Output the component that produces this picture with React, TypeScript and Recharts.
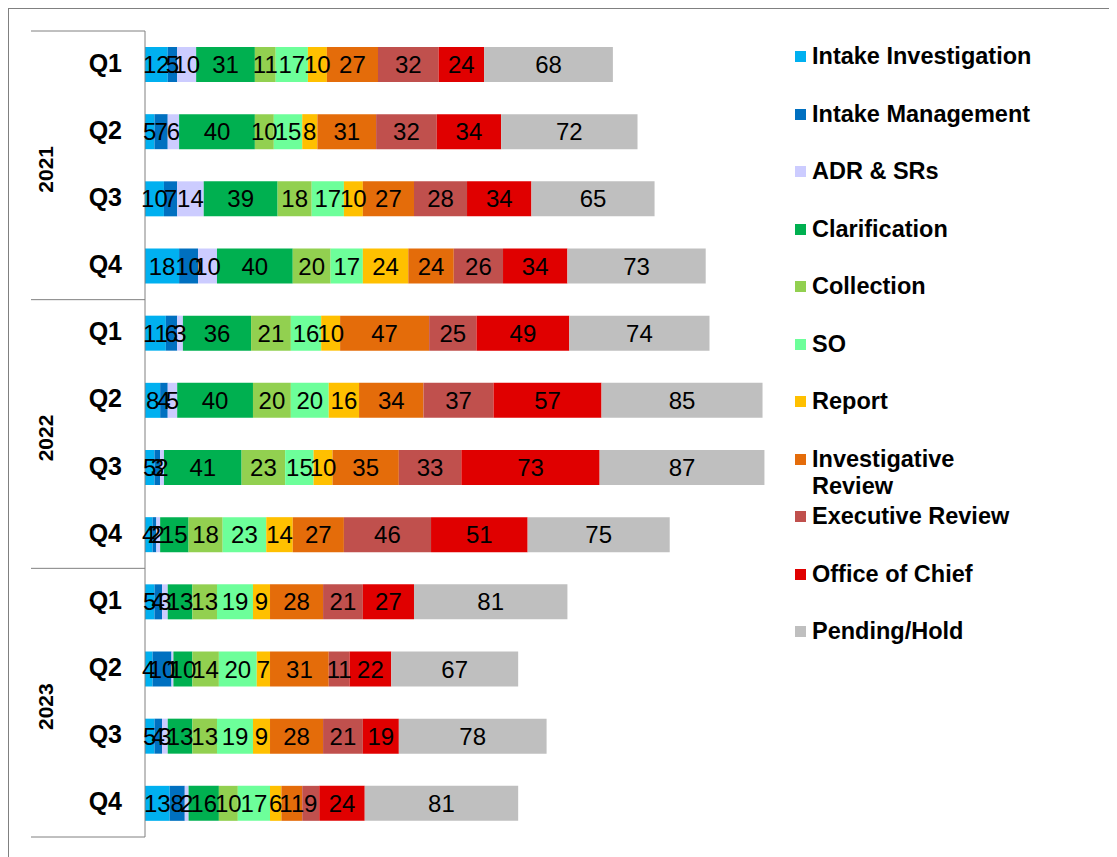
import React from 'react'
import {BarChart, Bar, XAxis, YAxis, LabelList} from 'recharts'

const years = ['2021', '2021', '2021', '2021', '2022', '2022', '2022', '2022', '2023', '2023', '2023', '2023']
const quarters = ['Q1', 'Q2', 'Q3', 'Q4', 'Q1', 'Q2', 'Q3', 'Q4', 'Q1', 'Q2', 'Q3', 'Q4']

// one array per stage, one value per quarter
const intakeInvestigation = [12, 5, 10, 18, 11, 8, 5, 4, 5, 4, 5, 13]
const intakeManagement = [5, 7, 7, 10, 6, 4, 3, 2, 4, 10, 4, 8]
const adrSrs = [10, 6, 14, 10, 3, 5, 2, 2, 3, 1, 3, 2]
const clarification = [31, 40, 39, 40, 36, 40, 41, 15, 13, 10, 13, 16]
const collection = [11, 10, 18, 20, 21, 20, 23, 18, 13, 14, 13, 10]
const so = [17, 15, 17, 17, 16, 20, 15, 23, 19, 20, 19, 17]
const report = [10, 8, 10, 24, 10, 16, 10, 14, 9, 7, 9, 6]
const investigativeReview = [27, 31, 27, 24, 47, 34, 35, 27, 28, 31, 28, 11]
const executiveReview = [32, 32, 28, 26, 25, 37, 33, 46, 21, 11, 21, 9]
const officeOfChief = [24, 34, 34, 34, 49, 57, 73, 51, 27, 22, 19, 24]
const pendingHold = [68, 72, 65, 73, 74, 85, 87, 75, 81, 67, 78, 81]

const series = [
  {key: 'ii', name: 'Intake Investigation', color: '#00B0F0', values: intakeInvestigation},
  {key: 'im', name: 'Intake Management', color: '#0070C0', values: intakeManagement},
  {key: 'adr', name: 'ADR & SRs', color: '#CCCCFF', values: adrSrs},
  {key: 'cl', name: 'Clarification', color: '#00B050', values: clarification},
  {key: 'co', name: 'Collection', color: '#92D050', values: collection},
  {key: 'so', name: 'SO', color: '#6DFF9A', values: so},
  {key: 're', name: 'Report', color: '#FFC000', values: report},
  {key: 'ir', name: 'Investigative\nReview', color: '#E46C0A', values: investigativeReview},
  {key: 'er', name: 'Executive Review', color: '#C0504D', values: executiveReview},
  {key: 'oc', name: 'Office of Chief', color: '#E00000', values: officeOfChief},
  {key: 'ph', name: 'Pending/Hold', color: '#BFBFBF', values: pendingHold}
]

const data = quarters.map((q, i) => {
  const row: Record<string, string | number> = {key: `${years[i]} ${q}`, year: years[i], quarter: q}
  series.forEach(s => {
    row[s.key] = s.values[i]
  })
  return row
})

const FONT = '"Liberation Sans", Arial, sans-serif'
const W = 1109
const H = 849
const AXIS_W = 136
const TOP = 22
const BOTTOM = 21
const PLOT_H = H - TOP - BOTTOM
const ROW_H = PLOT_H / data.length

const QuarterTick = (props: any) => {
  const {y, payload, index} = props
  const half = payload && payload.offset ? payload.offset : ROW_H / 2
  const row = data[index] || {}
  const q = row.quarter as string
  return (
    <g>
      <text x={113} y={y} dy={7} textAnchor='end' fontSize={25} fontWeight='bold' fontFamily={FONT} fill='#000'>
        {q}
      </text>
      {q === 'Q1' && <line x1={22} x2={AXIS_W} y1={y - half} y2={y - half} stroke='#808080' />}
      {index === data.length - 1 && <line x1={22} x2={AXIS_W} y1={y + half} y2={y + half} stroke='#808080' />}
      {q === 'Q2' && (
        <text
          x={37}
          y={y + half + 4}
          dy={7}
          textAnchor='middle'
          fontSize={21}
          fontWeight='bold'
          fontFamily={FONT}
          fill='#000'
          transform={`rotate(-90 37 ${y + half + 4})`}
        >
          {row.year}
        </text>
      )}
    </g>
  )
}

const App: React.FC = () => {
  return (
    <div style={{position: 'relative', width: W, height: H, borderTop: '1px solid #808080', borderLeft: '1px solid #808080', boxSizing: 'border-box'}}>
      <BarChart
        width={W}
        height={H}
        data={data}
        layout='vertical'
        margin={{top: TOP, right: 310, bottom: BOTTOM, left: 0}}
        barSize={35}
      >
        <XAxis type='number' domain={[0, 350]} hide />
        <YAxis
          type='category'
          dataKey='key'
          width={AXIS_W}
          axisLine={{stroke: '#808080'}}
          tickLine={false}
          tick={<QuarterTick />}
          interval={0}
        />
        {series.map(s => (
          <Bar key={s.key} dataKey={s.key} name={s.name} stackId='a' fill={s.color} isAnimationActive={false}>
            <LabelList dataKey={s.key} position='center' fill='#000' fontSize={24} fontFamily={FONT} />
          </Bar>
        ))}
      </BarChart>
      <div style={{position: 'absolute', left: 786, top: 34, fontFamily: FONT, fontWeight: 'bold', fontSize: 23.5}}>
        {series.map(s => (
          <div key={s.key} style={{height: 57.5, display: 'flex', alignItems: 'flex-start'}}>
            <span style={{width: 11, height: 11, background: s.color, marginTop: 8, marginRight: 6, flexShrink: 0}} />
            <span style={{whiteSpace: 'pre', lineHeight: '27px'}}>{s.name}</span>
          </div>
        ))}
      </div>
    </div>
  )
}

export default App
